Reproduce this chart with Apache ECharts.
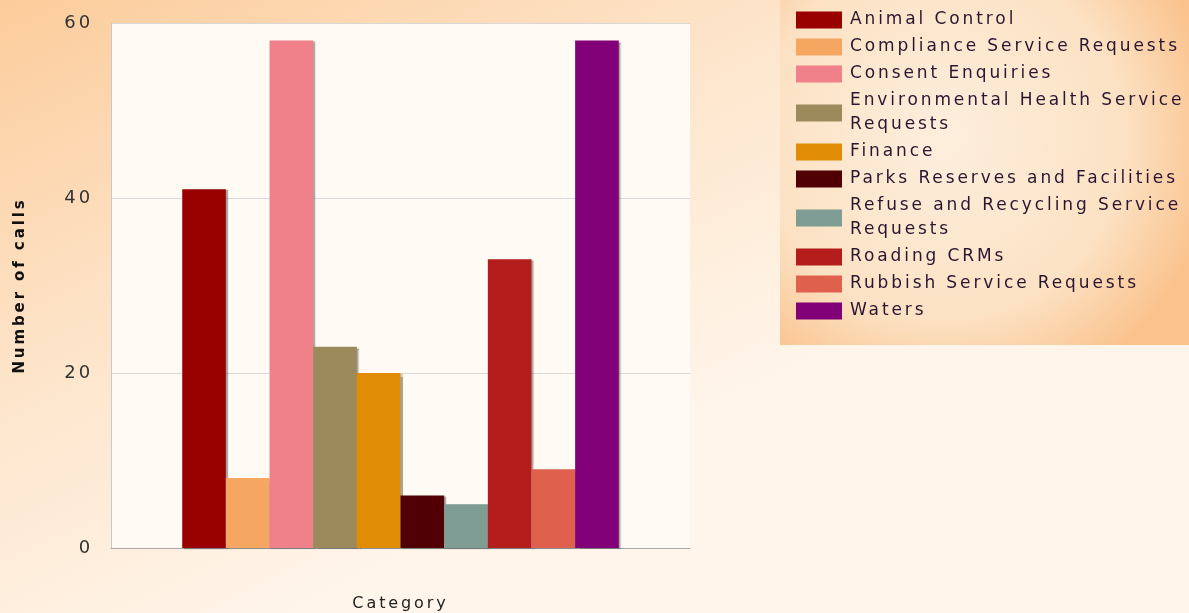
<!DOCTYPE html>
<html><head><meta charset="utf-8">
<script src="https://cdn.jsdelivr.net/npm/echarts@6/dist/echarts.min.js"></script>
<style>html,body{margin:0;padding:0;}#c{width:1189px;height:613px;}</style>
</head><body><div id="c"></div>
<script>
const seriesNames = ['Animal Control','Compliance Service Requests','Consent Enquiries','Environmental Health Service Requests','Finance','Parks Reserves and Facilities','Refuse and Recycling Service Requests','Roading CRMs','Rubbish Service Requests','Waters'];
const callCounts = [41, 8, 58, 23, 20, 6, 5, 33, 9, 58];
const xCategories = ['Category'];
const yTicks = [0, 20, 40, 60];

const palette = ['#990000','#F5A660','#F0808A','#9B8A5C','#E08C05','#500005','#7F9D95','#B51C1C','#E0604E','#820078'];
const font = 'DejaVu Sans';

// the reference text is widely letter-spaced; apply the same spacing to canvas text
(function(){
  const P = CanvasRenderingContext2D.prototype;
  if (!('letterSpacing' in P)) return;
  ['fillText','strokeText','measureText'].forEach(fn=>{
    const o = P[fn];
    P[fn] = function(){ this.letterSpacing = '2.9px'; return o.apply(this, arguments); };
  });
})();

// wrap long legend names at the last space before the limit
function wrapName(name){
  const limit = 29;
  if (name.length <= limit) return name;
  const cut = name.lastIndexOf(' ', limit);
  return cut > 0 ? name.slice(0, cut) + '\n' + name.slice(cut + 1) : name;
}

const chart = echarts.init(document.getElementById('c'), null, {renderer:'canvas'});
const series = seriesNames.map((n,i)=>({
  name: n, type: 'bar', data: [callCounts[i]],
  barGap: '0%', barCategoryGap: '24.6%',
  itemStyle: {color: palette[i], shadowColor:'rgba(60,60,60,0.45)', shadowOffsetX:2, shadowOffsetY:1, shadowBlur:1}
}));
chart.setOption({
  animation:false,
  backgroundColor: {type:'linear', x:0, y:0, x2:0.25, y2:1, colorStops:[
    {offset:0,color:'#FCCC9B'},{offset:0.55,color:'#FDE6CD'},{offset:1,color:'#FFF5EA'}]},
  graphic:[{type:'rect', left:780, top:0, z:-1, shape:{width:409,height:345},
    style:{fill:{type:'radial', x:0.4, y:0.4, r:0.8, colorStops:[
      {offset:0,color:'#FDEEDD'},{offset:0.65,color:'#FCE2C4'},{offset:1,color:'#FAC28C'}]}}}],
  grid:{left:111, right:499, top:23, bottom:65, show:true, backgroundColor:'#FFFBF4', borderWidth:0,
    containLabel:false, outerBoundsMode:'none'},
  legend:{orient:'vertical', left:791, top:3, itemWidth:46, itemHeight:17, itemGap:3,
    icon:'rect', selectedMode:false, formatter: wrapName,
    textStyle:{fontFamily:font, fontSize:17, color:'#2A1630', lineHeight:24, padding:[0,0,0,3]},
    data: seriesNames},
  xAxis:{type:'category', data:xCategories, name:'Category', nameLocation:'middle', nameGap:46,
    nameTextStyle:{fontFamily:font, fontSize:16, color:'#222'},
    axisLine:{show:true, lineStyle:{color:'#AAAAAA'}}, axisTick:{show:false}, axisLabel:{show:false}},
  yAxis:{type:'value', min:0, max:60, interval:20, name:'Number of calls', nameLocation:'middle', nameGap:82,
    nameTextStyle:{fontFamily:font, fontSize:15, fontWeight:'bold', color:'#111'},
    axisLine:{show:true, lineStyle:{color:'#C8C8C8'}}, axisTick:{show:false},
    axisLabel:{fontFamily:font, fontSize:18, color:'#333', margin:18,
      formatter:v=>yTicks.includes(v)?String(v):''},
    splitLine:{lineStyle:{color:'#D8D8D8'}}},
  series: series
});
</script></body></html>
